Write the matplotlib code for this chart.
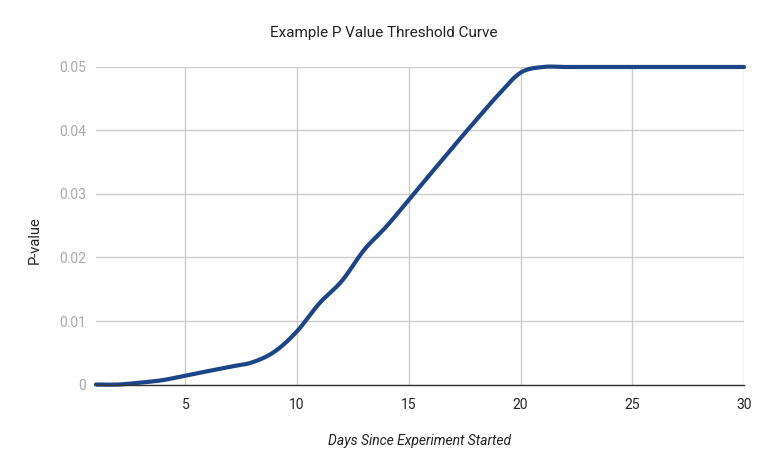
import numpy as np
import matplotlib
matplotlib.use("Agg")
import matplotlib.pyplot as plt

days = list(range(1, 31))
p_values = [0.0, 0.0, 0.0003, 0.0007, 0.0014, 0.0021, 0.0028, 0.0035, 0.0052, 0.0084,
            0.0128, 0.0163, 0.0212, 0.0249, 0.0291, 0.0333, 0.0375, 0.0416, 0.0456, 0.0491,
            0.0500, 0.0500, 0.0500, 0.0500, 0.0500, 0.0500, 0.0500, 0.0500, 0.0500, 0.0500]
x_ticks = [5, 10, 15, 20, 25, 30]
y_ticks = [0, 0.01, 0.02, 0.03, 0.04, 0.05]
y_tick_labels = ["0", "0.01", "0.02", "0.03", "0.04", "0.05"]

title = "Example P Value Threshold Curve"
x_title = "Days Since Experiment Started"
y_title = "P-value"


def catmull_rom(xs, ys, n=20):
    xs = np.asarray(xs, float)
    ys = np.asarray(ys, float)
    px = np.concatenate([[2 * xs[0] - xs[1]], xs, [2 * xs[-1] - xs[-2]]])
    py = np.concatenate([[ys[0]], ys, [ys[-1]]])
    out_x, out_y = [], []
    t = np.linspace(0, 1, n, endpoint=False)
    for i in range(1, len(px) - 2):
        p0, p1, p2, p3 = py[i - 1], py[i], py[i + 1], py[i + 2]
        x0, x1, x2, x3 = px[i - 1], px[i], px[i + 1], px[i + 2]
        for arr, a0, a1, a2, a3 in ((out_x, x0, x1, x2, x3), (out_y, p0, p1, p2, p3)):
            arr.extend(0.5 * ((2 * a1) + (-a0 + a2) * t + (2 * a0 - 5 * a1 + 4 * a2 - a3) * t ** 2
                              + (-a0 + 3 * a1 - 3 * a2 + a3) * t ** 3))
    out_x.append(xs[-1])
    out_y.append(ys[-1])
    return np.array(out_x), np.array(out_y)


plt.rcParams['font.family'] = ['Roboto', 'DejaVu Sans']

fig = plt.figure(figsize=(7.68, 4.75), dpi=100)
ax = fig.add_axes([0.125, 0.1905, 0.8438, 0.6685])

sx, sy = catmull_rom(days, p_values)
ax.plot(sx, sy, color="#1c4587", linewidth=3.0, solid_capstyle="round", zorder=3, clip_on=False)

ax.set_xlim(1, 30)
ax.set_ylim(0, 0.05)
ax.set_xticks(x_ticks)
ax.set_yticks(y_ticks)
ax.set_yticklabels(y_tick_labels)
ax.grid(True, color="#cccccc", linewidth=1.0)
ax.set_axisbelow(True)
for s in ["top", "right", "left"]:
    ax.spines[s].set_visible(False)
ax.spines["bottom"].set_color("#333333")
ax.spines["bottom"].set_linewidth(1.0)
ax.spines["bottom"].set_zorder(4)
ax.tick_params(axis="both", length=0)
ax.tick_params(axis="x", labelsize=10, labelcolor="#222222", pad=10)
ax.tick_params(axis="y", labelsize=10, labelcolor="#aaaaaa", pad=7)

fig.text(0.5, 1 - 33 / 475, title, ha="center", va="center", fontsize=11, color="#222222")
fig.text(420 / 768, 1 - 441 / 475, x_title, ha="center", va="center", fontsize=10,
         style="italic", color="#222222")
fig.text(35 / 768, 1 - 240 / 475, y_title, ha="center", va="center", fontsize=10.5,
         rotation=90, color="#222222")

fig.savefig("out.png", dpi=100)
